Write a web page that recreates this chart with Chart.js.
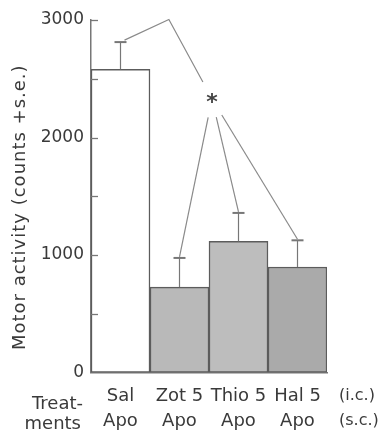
<!DOCTYPE html>
<html><head><meta charset="utf-8">
<script src="https://cdn.jsdelivr.net/npm/chart.js@4.4.1/dist/chart.umd.min.js"></script>
<style>html,body{margin:0;padding:0;background:#fff}#wrap{width:381px;height:433px}</style>
</head><body><div id="wrap"><canvas id="c" width="381" height="433"></canvas></div>
<script>
const categories = [["Sal","Apo"],["Zot 5","Apo"],["Thio 5","Apo"],["Hal 5","Apo"]];
const motorActivity = [2580, 727, 1116, 898];
const standardError = [232, 248, 242, 227];
const yTickValues = [0, 1000, 2000, 3000];
const yTickLabels = ["0", "1000", "2000", "3000"];
const routeLabels = ["(i.c.)", "(s.c.)"];
const rowTitle = ["Treat-", "ments"];
const yTitle = "Motor activity (counts +s.e.)";
const significanceMark = "*";
const barFills = ["#ffffff", "#b9b9b9", "#bdbdbd", "#aaaaaa"];

const FONT = "'DejaVu Sans', sans-serif";
const TEXT = "#3a3a3a";
const LINE = "#8a8a8a";

const annot = {
  id: 'annot',
  afterDatasetsDraw(chart) {
    const ctx = chart.ctx;
    const x = chart.scales.x, y = chart.scales.y;
    const ca = chart.chartArea;
    const meta = chart.getDatasetMeta(0);
    ctx.save();
    // inward ticks on y axis (major and minor)
    ctx.strokeStyle = "#777"; ctx.lineWidth = 1.3;
    for (let v = 500; v <= 3000; v += 500) {
      const py = Math.round(y.getPixelForValue(v)) + 0.5;
      ctx.beginPath(); ctx.moveTo(ca.left, py); ctx.lineTo(ca.left + 7, py); ctx.stroke();
    }
    // error bars
    const tops = [];
    meta.data.forEach((bar, i) => {
      const ty = y.getPixelForValue(motorActivity[i] + standardError[i]);
      tops.push({x: bar.x, y: ty});
      ctx.strokeStyle = "#777"; ctx.lineWidth = 1.2;
      ctx.beginPath(); ctx.moveTo(bar.x, bar.y); ctx.lineTo(bar.x, ty); ctx.stroke();
      ctx.lineWidth = 2;
      ctx.beginPath(); ctx.moveTo(bar.x - 6, ty); ctx.lineTo(bar.x + 6, ty); ctx.stroke();
    });
    // significance bracket
    const star = {x: x.getPixelForValue(1.55), y: y.getPixelForValue(2330)};
    const peak = {x: x.getPixelForValue(0.82), y: y.getPixelForValue(3005)};
    const gap = 19;
    const toward = (from, to, d) => {
      const dx = to.x - from.x, dy = to.y - from.y, n = Math.hypot(dx, dy);
      return {x: from.x + dx / n * d, y: from.y + dy / n * d};
    };
    ctx.strokeStyle = LINE; ctx.lineWidth = 1.2;
    const s0 = {x: tops[0].x + 4, y: tops[0].y - 2};
    const e0 = toward(star, peak, gap);
    ctx.beginPath(); ctx.moveTo(s0.x, s0.y); ctx.lineTo(peak.x, peak.y); ctx.lineTo(e0.x, e0.y); ctx.stroke();
    for (let i = 1; i < tops.length; i++) {
      const st = toward(star, tops[i], gap);
      ctx.beginPath(); ctx.moveTo(st.x, st.y); ctx.lineTo(tops[i].x, tops[i].y - 1); ctx.stroke();
    }
    ctx.fillStyle = "#444";
    ctx.font = "bold 22px " + FONT;
    ctx.textAlign = "center"; ctx.textBaseline = "alphabetic";
    ctx.fillText(significanceMark, star.x, star.y + 10);
    // extra text
    ctx.fillStyle = TEXT;
    ctx.font = "16px " + FONT;
    ctx.textBaseline = "middle";
    ctx.textAlign = "left";
    ctx.fillText(routeLabels[0], ca.right + 12, ca.bottom + 23);
    ctx.fillText(routeLabels[1], ca.right + 12, ca.bottom + 48);
    ctx.font = "18px " + FONT;
    ctx.textAlign = "right";
    ctx.fillText(rowTitle[0], ca.left - 8, ca.bottom + 32);
    ctx.fillText(rowTitle[1], ca.left - 10, ca.bottom + 52);
    // y title
    ctx.save();
    ctx.translate(20, (ca.top + ca.bottom) / 2 + 11);
    ctx.rotate(-Math.PI / 2);
    ctx.textAlign = "center"; ctx.textBaseline = "middle";
    ctx.font = "18px " + FONT;
    try { ctx.letterSpacing = "1px"; } catch (e) {}
    ctx.fillText(yTitle, 0, 0);
    ctx.restore();
    ctx.restore();
  }
};

new Chart(document.getElementById('c'), {
  type: 'bar',
  data: {
    labels: categories,
    datasets: [{
      data: motorActivity,
      backgroundColor: barFills,
      borderColor: "#5c5c5c",
      borderWidth: 1.5,
      borderSkipped: false,
      categoryPercentage: 1,
      barPercentage: 1
    }]
  },
  options: {
    responsive: false,
    devicePixelRatio: 1,
    animation: false,
    layout: {padding: {top: 20, right: 54, left: 0, bottom: 0}},
    plugins: {legend: {display: false}, tooltip: {enabled: false}},
    scales: {
      x: {
        grid: {display: false, drawTicks: false},
        border: {display: true, color: "#777", width: 1.5},
        ticks: {color: TEXT, font: {family: FONT, size: 18, lineHeight: '25px'}, padding: 11, maxRotation: 0, autoSkip: false},
        afterFit(s) { s.height = 60.5; }
      },
      y: {
        min: 0, max: 3000,
        afterBuildTicks(s) { s.ticks = yTickValues.map(v => ({value: v})); },
        grid: {display: false, drawTicks: false},
        border: {display: true, color: "#777", width: 1.5},
        ticks: {
          color: TEXT, font: {family: FONT, size: 17}, padding: 7,
          callback: (v) => yTickLabels[yTickValues.indexOf(v)]
        },
        afterFit(s) { s.width = 91; }
      }
    }
  },
  plugins: [annot]
});
</script>
</body></html>
